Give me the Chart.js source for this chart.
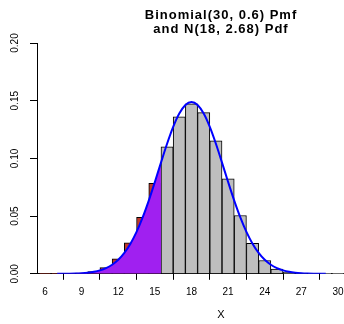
<!DOCTYPE html>
<html>
<head>
<meta charset="utf-8">
<script src="https://cdn.jsdelivr.net/npm/chart.js@4.4.0/dist/chart.umd.min.js"></script>
<style>
  html, body { margin: 0; padding: 0; overflow: hidden; background: #fff; }
  #wrap { width: 442px; height: 324px; }
</style>
</head>
<body>
<div id="wrap"><canvas id="pmfChart" width="442" height="324"></canvas></div>
<script>
// ----------- Data ----------------- //

const titleLines = ["Binomial(30, 0.6) Pmf", "and N(18, 2.68) Pdf"];
const xTicks = [6, 9, 12, 15, 18, 21, 24, 27, 30];
const yTicks = [0, 0.05, 0.1, 0.15, 0.2];

// binomial pmf, k = 6..30
const kValues = [6, 7, 8, 9, 10, 11, 12, 13, 14, 15, 16, 17, 18,
                 19, 20, 21, 22, 23, 24, 25, 26, 27, 28, 29, 30];
const pmfValues = [0.00001, 0.00004, 0.00017, 0.00063, 0.00200, 0.00545, 0.01294,
                   0.02687, 0.04895, 0.07831, 0.11013, 0.13604, 0.14738,
                   0.13962, 0.11519, 0.08228, 0.05049, 0.02634, 0.01152,
                   0.00415, 0.00120, 0.00027, 0.00004, 0.000004, 0.0000002];
const cutoff = 15.5;

// normal curve, x = 7..29
const curveX = [7, 7.5, 8, 8.5, 9, 9.5, 10, 10.5, 11, 11.5, 12, 12.5, 13, 13.5,
                14, 14.5, 15, 15.5, 16, 16.5, 17, 17.5, 18, 18.5, 19, 19.5, 20,
                20.5, 21, 21.5, 22, 22.5, 23, 23.5, 24, 24.5, 25, 25.5, 26, 26.5,
                27, 27.5, 28, 28.5, 29];
const curveY = [0.00003, 0.00007, 0.00014, 0.00028, 0.00053, 0.00097, 0.00173,
                0.00297, 0.00491, 0.00786, 0.01214, 0.01812, 0.02612, 0.03635,
                0.04887, 0.06345, 0.07956, 0.09634, 0.11268, 0.12728, 0.13885,
                0.14629, 0.14886, 0.14629, 0.13885, 0.12728, 0.11268, 0.09634,
                0.07956, 0.06345, 0.04887, 0.03635, 0.02612, 0.01812, 0.01214,
                0.00786, 0.00491, 0.00297, 0.00173, 0.00097, 0.00053, 0.00028,
                0.00014, 0.00007, 0.00003];

// ----------- Chart ----------------- //

const barPoints = kValues.map((k, i) => ({x: k, y: pmfValues[i]}));
const barColors = kValues.map(k => k < cutoff ? "#C0392B" : "#BEBEBE");
const curvePoints = curveX.map((x, i) => ({x: x, y: curveY[i]}));
const shadePoints = curvePoints.filter(p => p.x <= cutoff);

const rLabels = {
    id: "rLabels",
    afterDraw(chart) {
        const ctx = chart.ctx;
        const area = chart.chartArea;
        const yScale = chart.scales.y;

        // y tick labels, turned like R does
        ctx.save();
        ctx.fillStyle = "#000";
        ctx.font = "10px 'Liberation Sans', Arial, sans-serif";
        ctx.textAlign = "center";
        ctx.textBaseline = "alphabetic";
        yTicks.forEach(v => {
            const py = yScale.getPixelForValue(v);
            ctx.save();
            ctx.translate(18, py);
            ctx.rotate(-Math.PI / 2);
            ctx.fillText(v.toFixed(2), 0, 0);
            ctx.restore();
        });
        ctx.restore();

        // title
        ctx.save();
        ctx.fillStyle = "#000";
        ctx.font = "bold 13px 'Liberation Sans', Arial, sans-serif";
        ctx.letterSpacing = "1px";
        ctx.textAlign = "center";
        const cx = (area.left + area.right) / 2;
        ctx.fillText(titleLines[0], cx, 19);
        ctx.fillText(titleLines[1], cx, 32.5);
        ctx.restore();
    }
};

new Chart(document.getElementById("pmfChart"), {
    type: "bar",
    data: {
        datasets: [
            {
                type: "line",
                data: curvePoints,
                borderColor: "#0000FF",
                borderWidth: 2,
                pointRadius: 0,
                fill: false,
                cubicInterpolationMode: "monotone",
                order: 0
            },
            {
                type: "line",
                data: shadePoints,
                borderWidth: 0,
                borderColor: "rgba(0,0,0,0)",
                backgroundColor: "#A020F0",
                pointRadius: 0,
                fill: "origin",
                cubicInterpolationMode: "monotone",
                order: 1
            },
            {
                type: "bar",
                data: barPoints,
                backgroundColor: barColors,
                borderColor: "#000",
                borderWidth: 1,
                barPercentage: 1,
                categoryPercentage: 1,
                order: 2
            }
        ]
    },
    options: {
        responsive: false,
        animation: false,
        devicePixelRatio: 1,
        layout: {
            padding: {top: 43, left: 30, right: 37, bottom: 2}
        },
        plugins: {
            legend: {display: false},
            tooltip: {enabled: false},
            title: {display: false}
        },
        scales: {
            x: {
                type: "linear",
                min: 5.345,
                max: 35.489,
                offset: false,
                afterBuildTicks: axis => {
                    axis.ticks = xTicks.map(v => ({value: v}));
                },
                grid: {
                    drawOnChartArea: false,
                    drawTicks: true,
                    tickLength: 6,
                    color: "#000"
                },
                border: {display: true, color: "#000", width: 1},
                ticks: {
                    color: "#000",
                    padding: 6,
                    maxRotation: 0,
                    autoSkip: false,
                    callback: v => String(v),
                    font: {family: "'Liberation Sans', Arial, sans-serif", size: 10}
                },
                title: {
                    display: true,
                    text: "X",
                    color: "#000",
                    padding: {top: 5, bottom: 0},
                    font: {family: "'Liberation Sans', Arial, sans-serif", size: 11}
                }
            },
            y: {
                min: 0,
                max: 0.2,
                afterBuildTicks: axis => {
                    axis.ticks = yTicks.map(v => ({value: v}));
                },
                grid: {
                    drawOnChartArea: false,
                    drawTicks: true,
                    tickLength: 7,
                    color: "#000"
                },
                border: {display: true, color: "#000", width: 1},
                ticks: {display: false}
            }
        }
    },
    plugins: [rLabels]
});
</script>
</body>
</html>
